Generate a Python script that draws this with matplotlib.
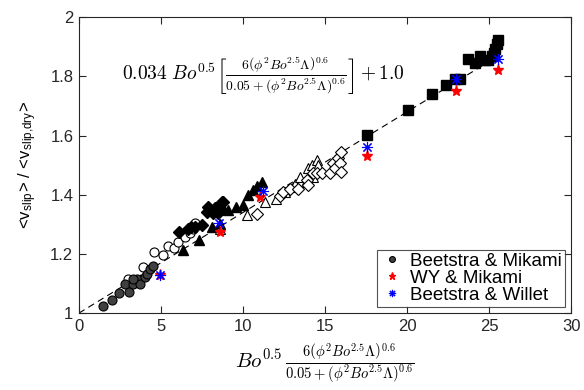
import numpy as np
import matplotlib.pyplot as plt

plt.rcParams['font.family'] = ['Liberation Sans', 'DejaVu Sans']
plt.rcParams['mathtext.fontset'] = 'cm'

# Beetstra & Mikami (filled gray circles)
bm_x = [1.5, 2.05, 2.46, 2.83, 3.05, 3.27, 3.56, 3.72, 4.02, 4.17, 4.33, 4.49, 3.31]
bm_y = [1.025, 1.044, 1.069, 1.10, 1.07, 1.097, 1.117, 1.10, 1.123, 1.134, 1.148, 1.16, 1.114]

# open circles
oc_x = [3.0, 3.88, 4.59, 5.1, 5.45, 5.81, 6.06, 6.46, 6.77, 6.97, 7.07]
oc_y = [1.114, 1.156, 1.207, 1.198, 1.226, 1.22, 1.24, 1.258, 1.27, 1.286, 1.303]

# filled diamonds
fd_x = [6.12, 6.67, 6.85, 7.07, 7.48, 7.79, 7.89, 8.15, 8.29, 8.5, 8.56, 8.7, 8.8]
fd_y = [1.275, 1.286, 1.29, 1.29, 1.297, 1.342, 1.36, 1.337, 1.354, 1.337, 1.348, 1.376, 1.376]

# filled triangles
ft_x = [6.36, 7.34, 8.09, 8.6, 8.8, 9.1, 9.6, 10.0, 10.3, 10.6, 10.83, 11.14]
ft_y = [1.213, 1.247, 1.29, 1.30, 1.354, 1.348, 1.36, 1.365, 1.40, 1.415, 1.429, 1.444]

# open triangles
ot_x = [8.6, 10.22, 11.34, 12.0, 12.56, 13.07, 13.17, 13.5, 13.84, 13.98, 14.19, 14.29, 14.49, 14.6]
ot_y = [1.286, 1.333, 1.376, 1.387, 1.41, 1.427, 1.438, 1.46, 1.444, 1.489, 1.5, 1.46, 1.517, 1.5]

# open diamonds
od_x = [10.87, 12.26, 12.46, 12.87, 13.37, 13.88, 13.98, 14.29, 14.49, 14.8, 15.3, 15.5, 15.6,
        15.8, 15.9, 16.0, 16.0]
od_y = [1.334, 1.395, 1.41, 1.42, 1.421, 1.449, 1.432, 1.472, 1.472, 1.472, 1.472, 1.506, 1.489,
        1.523, 1.506, 1.477, 1.545]

# filled squares
sq_x = [17.58, 20.08, 21.5, 22.4, 22.9, 23.2, 23.7, 24.15, 24.45, 24.76, 24.96, 25.16, 25.3,
        25.37, 25.47, 25.53]
sq_y = [1.601, 1.688, 1.74, 1.77, 1.79, 1.79, 1.86, 1.844, 1.87, 1.855, 1.855, 1.87, 1.88,
        1.894, 1.911, 1.922]

# WY & Mikami
wy_x = [4.94, 8.6, 11.04, 17.58, 22.99, 25.57]
wy_y = [1.128, 1.275, 1.393, 1.53, 1.751, 1.821]

# Beetstra & Willet
bw_x = [4.94, 8.55, 11.2, 17.58, 22.99, 25.57]
bw_y = [1.13, 1.303, 1.413, 1.562, 1.79, 1.86]

# fit: 0.034*x + 1
fit_x = np.array([0, 25.5])
fit_y = 0.034 * fit_x + 1.0

fig = plt.figure(figsize=(5.84, 3.90), dpi=100)
ax = fig.add_axes([0.135, 0.197, 0.843, 0.759])

ax.plot(fit_x, fit_y, '--', color='k', lw=0.8, dashes=(6, 4), zorder=1)

ms = 6.5
ax.plot(oc_x, oc_y, 'o', ms=ms, mfc='white', mec='k', mew=0.8, ls='none')
ax.plot(fd_x, fd_y, 'D', ms=ms, mfc='k', mec='k', ls='none')
ax.plot(ft_x, ft_y, '^', ms=ms + 1, mfc='k', mec='k', ls='none')
ax.plot(ot_x, ot_y, '^', ms=ms + 1, mfc='white', mec='k', mew=0.8, ls='none')
ax.plot(od_x, od_y, 'D', ms=ms, mfc='white', mec='k', mew=0.8, ls='none')
ax.plot(sq_x, sq_y, 's', ms=ms, mfc='k', mec='k', ls='none')
ax.plot(bm_x, bm_y, 'o', ms=ms, mfc='#404040', mec='k', mew=0.8, ls='none',
        label='Beetstra & Mikami')
ax.plot(wy_x, wy_y, '*', ms=8, mfc='red', mec='red', ls='none', label='WY & Mikami')
ax.plot(bw_x, bw_y, marker=(8, 2, 0), ms=8, mec='blue', mew=0.8, ls='none',
        label='Beetstra & Willet')

ax.set_xlim(0, 30)
ax.set_ylim(1, 2)
ax.set_xticks([0, 5, 10, 15, 20, 25, 30])
ax.set_yticks([1, 1.2, 1.4, 1.6, 1.8, 2])
ax.set_yticklabels(['1', '1.2', '1.4', '1.6', '1.8', '2'])
ax.tick_params(direction='in', top=True, right=True, length=5, labelsize=12,
               colors='#262626', pad=4)
for s in ax.spines.values():
    s.set_color('#262626')
    s.set_linewidth(0.8)

ax.set_xlabel(r'$Bo^{0.5}\,\frac{6\left(\phi^2 Bo^{2.5}\Lambda\right)^{0.6}}'
              r'{0.05+(\phi^2 Bo^{2.5}\Lambda)^{0.6}}$', fontsize=15, labelpad=6)
ax.set_ylabel(r'<v$_{\mathregular{slip}}$> / <v$_{\mathregular{slip{,}dry}}$>',
              fontsize=12, labelpad=8)

ax.text(2.6, 1.8, r'$0.034\ Bo^{0.5}\left[\frac{6\left(\phi^2 Bo^{2.5}\Lambda\right)^{0.6}}'
        r'{0.05+(\phi^2 Bo^{2.5}\Lambda)^{0.6}}\right] + 1.0$',
        fontsize=14, va='center', ha='left')

leg = ax.legend(loc='lower right', fontsize=13.5, frameon=True, fancybox=False,
                edgecolor='#262626', borderpad=0.15, handletextpad=0.3,
                labelspacing=0.0, handlelength=1.3, borderaxespad=0.35,
                markerscale=0.65)
leg.get_frame().set_linewidth(0.8)

fig.savefig('out.png', dpi=100)
